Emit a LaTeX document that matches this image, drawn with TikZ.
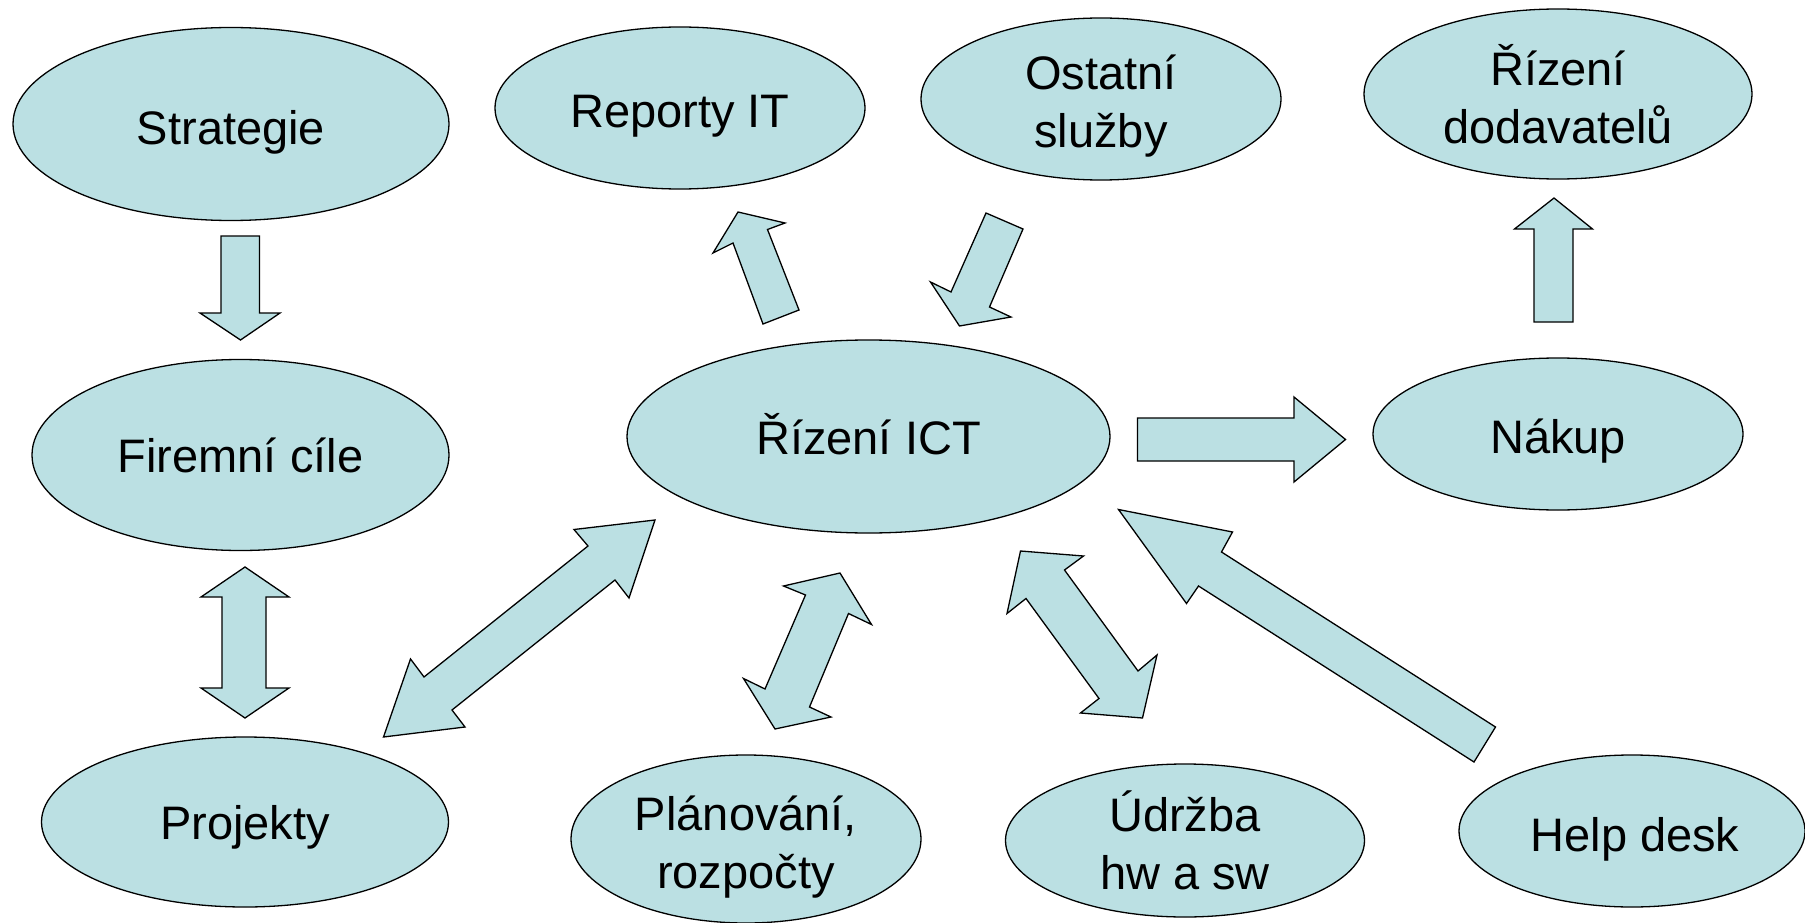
\documentclass[tikz,border=0pt]{standalone}
\usepackage{fontspec}
\setmainfont{Liberation Sans}
\usetikzlibrary{shapes.geometric}
\definecolor{fillblue}{HTML}{BBE0E3}
\tikzset{
  bubble/.style={ellipse, draw=black, line width=1.3pt, fill=fillblue, inner sep=0pt},
  txt/.style={inner sep=0pt, align=center, font=\fontsize{47}{57.6}\selectfont},
  blockarrow/.style={draw=black, line width=1.3pt, fill=fillblue, line join=miter}
}
\begin{document}
\begin{tikzpicture}[x=1pt,y=-1pt]
\useasboundingbox[fill=white] (0,0) rectangle (1805,923);
% ellipses
\node[bubble, minimum width=436pt, minimum height=193pt] (strat) at (231,124) {};
\node[bubble, minimum width=370pt, minimum height=162pt] (rep) at (680,108) {};
\node[bubble, minimum width=360pt, minimum height=162pt] (ost) at (1101,99) {};
\node[bubble, minimum width=388pt, minimum height=170pt] (dod) at (1558,94) {};
\node[bubble, minimum width=417pt, minimum height=191pt] (fir) at (240.5,455) {};
\node[bubble, minimum width=483pt, minimum height=193pt] (ict) at (868.5,436.5) {};
\node[bubble, minimum width=370pt, minimum height=152pt] (nak) at (1558,434) {};
\node[bubble, minimum width=407pt, minimum height=170pt] (proj) at (245,822) {};
\node[bubble, minimum width=350pt, minimum height=168pt] (plan) at (746,839) {};
\node[bubble, minimum width=359pt, minimum height=153pt] (udr) at (1185,840.5) {};
\node[bubble, minimum width=346pt, minimum height=152pt] (help) at (1632,831) {};
% texts
\node[txt] (tstrat) at ([yshift=-8pt]strat.center) {Strategie};
\node[txt] (trep) at ([yshift=-8pt]rep.center) {Reporty IT};
\node[txt] (tost) at ([yshift=-7pt]ost.center) {Ostatní\\služby};
\node[txt] (tdod) at (dod.center) {Řízení\\dodavatelů};
\node[txt] (tfir) at (fir.center) {Firemní cíle};
\node[txt] (tict) at ([yshift=2pt]ict.center) {Řízení ICT};
\node[txt] (tnak) at ([yshift=-7pt]nak.center) {Nákup};
\node[txt] (tproj) at ([yshift=-5pt]proj.center) {Projekty};
\node[txt] (tplan) at ([yshift=-8pt]plan.center) {Plánování,\\rozpočty};
\node[txt] (tudr) at (udr.center) {Údržba\\hw a sw};
\node[txt] (thelp) at ([xshift=3pt,yshift=-8pt]help.center) {Help desk};
% block arrows
% Strategie -> Firemni cile
\draw[blockarrow] (221,236) -- (259.5,236) -- (259.5,313) -- (280,313) -- (240.5,340) -- (200,313) -- (221,313) -- cycle;
% Firemni cile <-> Projekty
\draw[blockarrow] (245,567) -- (289,597) -- (266,597) -- (266,688) -- (289,688) -- (245,718) -- (201,688) -- (222,688) -- (222,597) -- (201,597) -- cycle;
% ICT -> Reporty IT
\draw[blockarrow] (738,212) -- (785,223) -- (767.5,229.5) -- (799,310) -- (763,324) -- (733,243) -- (713,253) -- cycle;
% Ostatni sluzby -> ICT
\draw[blockarrow] (986,213) -- (1023,229) -- (989.5,307) -- (1011,317) -- (959.5,326) -- (930.5,282) -- (951,292) -- cycle;
% ICT -> Nakup
\draw[blockarrow] (1137.5,418) -- (1294,418) -- (1294,397) -- (1345.5,439.5) -- (1294,482) -- (1294,461) -- (1137.5,461) -- cycle;
% Nakup -> Rizeni dodavatelu
\draw[blockarrow] (1554,198) -- (1592.5,229) -- (1573,229) -- (1573,322) -- (1534,322) -- (1534,229) -- (1514.5,229) -- cycle;
% Projekty <-> ICT
\draw[blockarrow] (655,520) -- (629,598) -- (615,580) -- (452,710) -- (465,727) -- (383.5,737) -- (410.5,659) -- (424,677) -- (588,546) -- (574,529.5) -- cycle;
% Planovani <-> ICT
\draw[blockarrow] (840,573) -- (871.5,624.5) -- (848.5,613.5) -- (809.5,707) -- (831,717) -- (775,729) -- (743.5,678.5) -- (765,689) -- (805.5,595) -- (783.5,586) -- cycle;
% Udrzba <-> ICT
\draw[blockarrow] (1020.5,551) -- (1083.5,556) -- (1064.5,570) -- (1138,671) -- (1157,655) -- (1142.5,718) -- (1080.5,713) -- (1099,698.5) -- (1026,598.5) -- (1007,613.5) -- cycle;
% Help desk -> ICT
\draw[blockarrow] (1118.5,509.5) -- (1232.5,532) -- (1221.5,552) -- (1495.5,727) -- (1474,762) -- (1198.5,586) -- (1186.5,603.5) -- cycle;
\end{tikzpicture}
\end{document}
